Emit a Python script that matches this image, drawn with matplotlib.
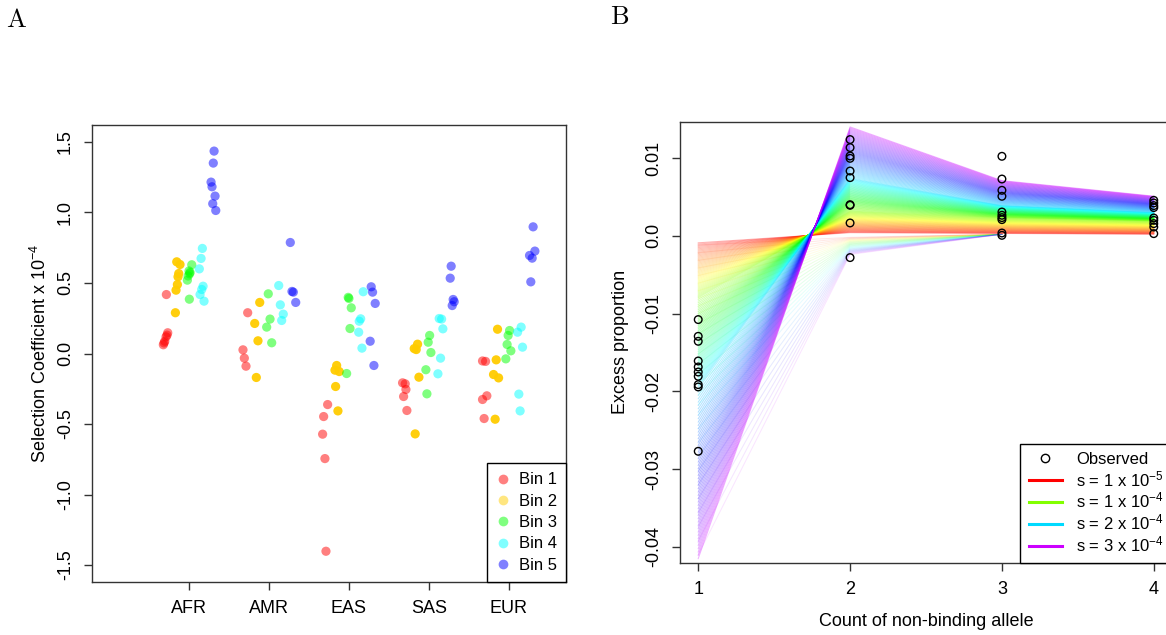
import numpy as np
import matplotlib.pyplot as plt
from matplotlib.colors import hsv_to_rgb
from matplotlib.lines import Line2D

plt.rcParams['font.family'] = ['Liberation Sans', 'DejaVu Sans']
plt.rcParams['mathtext.fontset'] = 'custom'
plt.rcParams['mathtext.rm'] = 'Liberation Sans'
plt.rcParams['mathtext.it'] = 'Liberation Sans:italic'

# ---- panel A: selection coefficients (x 1e-4) per population and bin ----
pops = ["AFR", "AMR", "EAS", "SAS", "EUR"]
bin_names = ["Bin 1", "Bin 2", "Bin 3", "Bin 4", "Bin 5"]

bin1 = [[0.418, 0.147, 0.130, 0.118, 0.087, 0.075, 0.062],
        [0.289, 0.026, -0.033, -0.090],
        [-0.362, -0.447, -0.572, -0.745, -1.402],
        [-0.208, -0.215, -0.255, -0.305, -0.404],
        [-0.053, -0.056, -0.300, -0.326, -0.461]]
bin2 = [[0.650, 0.631, 0.567, 0.544, 0.489, 0.449, 0.289],
        [0.362, 0.213, 0.090, -0.170],
        [-0.085, -0.118, -0.128, -0.234, -0.407],
        [0.066, 0.035, 0.028, -0.168, -0.570],
        [0.172, -0.045, -0.149, -0.173, -0.466]]
bin3 = [[0.629, 0.585, 0.575, 0.565, 0.550, 0.520, 0.385],
        [0.423, 0.244, 0.187, 0.076],
        [0.398, 0.390, 0.324, 0.177, -0.142],
        [0.128, 0.080, 0.007, -0.115, -0.286],
        [0.163, 0.128, 0.064, 0.019, -0.038]]
bin4 = [[0.745, 0.674, 0.600, 0.477, 0.454, 0.418, 0.371],
        [0.482, 0.345, 0.279, 0.234],
        [0.438, 0.246, 0.229, 0.151, 0.038],
        [0.248, 0.244, 0.175, -0.033, -0.144],
        [0.187, 0.151, 0.045, -0.288, -0.407]]
bin5 = [[1.435, 1.350, 1.215, 1.182, 1.116, 1.062, 1.014],
        [0.787, 0.440, 0.435, 0.362],
        [0.473, 0.435, 0.355, 0.087, -0.085],
        [0.619, 0.534, 0.383, 0.367, 0.340],
        [0.898, 0.726, 0.695, 0.676, 0.508]]

# horizontal jitter of each point around its bin slot
jit1 = [[0.012, 0.029, 0.020, 0.008, -0.008, -0.017, -0.026],
        [0.031, -0.028, -0.011, 0.010],
        [0.033, -0.017, -0.030, -0.001, 0.012],
        [-0.028, 0.005, 0.014, -0.015, 0.026],
        [-0.026, 0.012, 0.028, -0.026, -0.006]]
jit2 = [[-0.008, 0.033, 0.017, 0.008, 0.000, -0.017, -0.025],
        [0.032, -0.031, 0.010, -0.011],
        [-0.004, -0.025, 0.028, -0.017, 0.012],
        [0.010, -0.032, -0.007, 0.027, -0.020],
        [0.012, -0.005, -0.038, 0.025, -0.018]]
jit3 = [[0.030, -0.004, 0.009, 0.003, -0.016, -0.025, 0.000],
        [-0.011, 0.011, -0.031, 0.032],
        [-0.009, 0.000, 0.029, 0.013, -0.029],
        [0.011, -0.007, 0.027, -0.036, -0.023],
        [0.013, -0.005, -0.018, 0.029, -0.034]]
jit4 = [[0.013, -0.003, -0.025, 0.022, 0.005, -0.016, 0.034],
        [-0.030, -0.010, 0.027, 0.007],
        [0.029, -0.003, -0.021, -0.028, 0.013],
        [-0.019, 0.011, 0.027, -0.002, -0.035],
        [0.008, -0.037, 0.025, -0.021, -0.005]]
jit5 = [[0.010, 0.000, -0.028, -0.016, 0.022, -0.007, 0.031],
        [-0.035, -0.014, 0.003, 0.033],
        [-0.021, -0.004, 0.029, -0.034, 0.013],
        [-0.019, -0.031, 0.006, 0.019, -0.006],
        [0.008, 0.030, -0.037, -0.004, -0.021]]

# ---- panel B: observed excess proportion by allele count ----
allele_count = [1, 2, 3, 4]
obs_c1 = [-0.01077, -0.01292, -0.01356, -0.01609, -0.01686, -0.01751,
          -0.01806, -0.01913, -0.01943, -0.02770]
obs_c2 = [0.01237, 0.01134, 0.01026, 0.00996, 0.00833, 0.00748,
          0.00400, 0.00392, 0.00165, -0.00280]
obs_c3 = [0.01022, 0.00730, 0.00585, 0.00508, 0.00306, 0.00264,
          0.00234, 0.00208, 0.00036, 0.00006]
obs_c4 = [0.00456, 0.00422, 0.00388, 0.00363, 0.00229, 0.00199,
          0.00157, 0.00113, 0.00028]

# expected excess at the legend's s values (rows: allele count 1..4)
s_ref = [1e-5, 1e-4, 2e-4, 3e-4]
fit_main = [[-0.0009, -0.0080, -0.0195, -0.0415],
            [0.0004, 0.0032, 0.0074, 0.0140],
            [0.0003, 0.0023, 0.0039, 0.0071],
            [0.0002, 0.0019, 0.0030, 0.0051]]
# fainter curves that dip below zero at two alleles (rows: counts 1..3)
fit_flat = [[-0.0012, -0.0100, -0.0230, -0.0410],
            [-0.0002, -0.0008, -0.0016, -0.0024],
            [0.0002, 0.0002, 0.0002, 0.0002]]
s_labels = [r"s = 1 x 10$^{-5}$", r"s = 1 x 10$^{-4}$",
            r"s = 2 x 10$^{-4}$", r"s = 3 x 10$^{-4}$"]

W, H = 1166, 635
fig = plt.figure(figsize=(W / 100, H / 100), dpi=100)


def px_axes(l, t, r, b):
    return fig.add_axes([l / W, 1 - b / H, (r - l) / W, (b - t) / H])


def style_axes(ax):
    for sp in ax.spines.values():
        sp.set_linewidth(1.0)
        sp.set_color("#333333")
    ax.tick_params(direction="out", length=6, width=1, color="#333333",
                   labelsize=13, pad=7)
    for lab in ax.get_yticklabels():
        lab.set_rotation(90)
        lab.set_va("center")


# ---------------- panel A ----------------
axA = px_axes(92, 125, 566, 582)
bins = [bin1, bin2, bin3, bin4, bin5]
jits = [jit1, jit2, jit3, jit4, jit5]
slot = [-0.3, -0.15, 0.0, 0.15, 0.3]
pt_colors = ["#FF0000", "#FFCC00", "#00FF00", "#00FFFF", "#0000FF"]
pt_alpha = [0.5, 0.95, 0.5, 0.5, 0.5]
for b in range(5):
    xs, ys = [], []
    for p in range(len(pops)):
        xs += [p + 1 + slot[b] + j for j in jits[b][p]]
        ys += bins[b][p]
    axA.scatter(xs, ys, s=44, color=pt_colors[b], alpha=pt_alpha[b],
                edgecolors="none", zorder=3)

axA.set_xlim(-0.22, 5.72)
axA.set_ylim(-1.62, 1.62)
axA.set_xticks(range(1, 6))
axA.set_xticklabels(pops)
yt = [-1.5, -1.0, -0.5, 0.0, 0.5, 1.0, 1.5]
axA.set_yticks(yt)
axA.set_yticklabels([f"{v:.1f}" for v in yt])
style_axes(axA)

leg_cols = ["#FF8080", "#FFE680", "#80FF80", "#80FFFF", "#8080FF"]
handlesA = [Line2D([], [], linestyle="none", marker="o", markersize=7,
                   markerfacecolor=c, markeredgecolor="none") for c in leg_cols]
legA = axA.legend(handlesA, bin_names, loc="lower right", bbox_to_anchor=(1, 0),
                  borderaxespad=0, fontsize=12, frameon=True, fancybox=False,
                  edgecolor="black", framealpha=1, borderpad=0.55,
                  handlelength=0.8, handletextpad=0.55, labelspacing=0.38)
legA.get_frame().set_linewidth(1.0)

fig.text(40 / W, 1 - 353 / H, r"Selection Coefficient x 10$^{-4}$", rotation=90,
         ha="center", va="center", fontsize=13)
fig.text(16 / W, 1 - 20 / H, r"$\mathrm{A}$", math_fontfamily="cm",
         ha="center", va="center", fontsize=19)

# ---------------- panel B ----------------
axB = px_axes(680, 122, 1172, 563)
for fam, n_lines, alpha in [(fit_flat, 30, 0.1), (fit_main, 150, 0.3)]:
    s_grid = np.linspace(s_ref[0], s_ref[-1], n_lines)
    xs = allele_count[:len(fam)]
    for s in s_grid:
        hue = 0.8 * (s - s_ref[0]) / (s_ref[-1] - s_ref[0])
        yv = [np.interp(s, s_ref, row) for row in fam]
        axB.plot(xs, yv, color=hsv_to_rgb((hue, 1, 1)), alpha=alpha,
                 lw=0.75, zorder=2)

obs = [obs_c1, obs_c2, obs_c3, obs_c4]
for c, vals in zip(allele_count, obs):
    axB.scatter([c] * len(vals), vals, s=30, facecolors="none",
                edgecolors="black", linewidths=1.0, zorder=4)

axB.set_xlim(0.88, 4.12)
axB.set_ylim(-0.04206, 0.01463)
axB.set_xticks(allele_count)
ybt = [-0.04, -0.03, -0.02, -0.01, 0.0, 0.01]
axB.set_yticks(ybt)
axB.set_yticklabels(["-0.04", "-0.03", "-0.02", "-0.01", "0.0", "0.01"])
style_axes(axB)

ref_cols = [hsv_to_rgb((0.8 * (s - s_ref[0]) / (s_ref[-1] - s_ref[0]), 1, 1))
            for s in s_ref]
handlesB = [Line2D([], [], linestyle="none", marker="o", markersize=6,
                   markerfacecolor="none", markeredgecolor="black")]
handlesB += [Line2D([], [], color=c, lw=2.2) for c in ref_cols]
legB = axB.legend(handlesB, ["Observed"] + s_labels, loc="lower right",
                  bbox_to_anchor=(1, 0), borderaxespad=0, fontsize=12,
                  frameon=True, fancybox=False, edgecolor="black", framealpha=1,
                  borderpad=0.5, handlelength=2.0, handletextpad=0.85,
                  labelspacing=0.12)
legB.get_frame().set_linewidth(1.0)

fig.text(620 / W, 1 - 342 / H, "Excess proportion", rotation=90,
         ha="center", va="center", fontsize=13)
fig.text(926 / W, 1 - 621 / H, "Count of non-binding allele",
         ha="center", va="center", fontsize=13)
fig.text(620 / W, 1 - 17 / H, r"$\mathrm{B}$", math_fontfamily="cm",
         ha="center", va="center", fontsize=19)

fig.savefig("out.png", dpi=100)
